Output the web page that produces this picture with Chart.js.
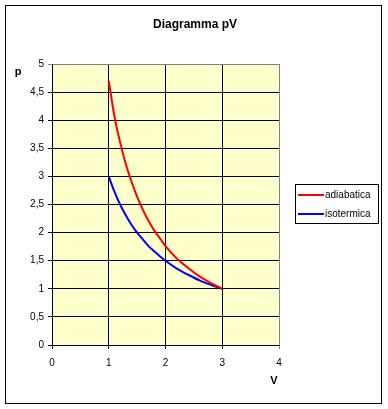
<!DOCTYPE html>
<html>
<head>
<meta charset="utf-8">
<script src="https://cdn.jsdelivr.net/npm/chart.js@4.4.0/dist/chart.umd.min.js"></script>
<style>
  body { margin: 0; background: #fff; }
  #wrap { position: relative; width: 388px; height: 409px; }
  #frame { position: absolute; left: 5px; top: 5px; width: 375px; height: 397px; border: 1px solid #000; pointer-events: none; }
</style>
</head>
<body>
<div id="wrap">
  <canvas id="pvchart" width="388" height="409"></canvas>
  <div id="frame"></div>
</div>
<script>
// volume V (asse x)
var volumi = [1, 1.1, 1.2, 1.3, 1.4, 1.5, 1.6, 1.7, 1.8, 1.9, 2, 2.2, 2.4, 2.6, 2.8, 3];
// pressione lungo l'adiabatica
var pAdiabatica = [4.7, 4.07, 3.61, 3.22, 2.91, 2.64, 2.41, 2.21, 2.04, 1.9, 1.76, 1.54, 1.37, 1.22, 1.1, 1];
// pressione lungo l'isoterma
var pIsotermica = [3, 2.73, 2.5, 2.31, 2.14, 2, 1.88, 1.76, 1.67, 1.58, 1.5, 1.36, 1.25, 1.15, 1.07, 1];

var nomiSerie = ['adiabatica', 'isotermica'];
var coloriSerie = ['#FF0000', '#0000FF'];

var titolo = 'Diagramma pV';
var etichettaY = 'p';
var etichettaX = 'V';

function punti(xs, ys) {
    return xs.map(function(x, i) { return { x: x, y: ys[i] }; });
}

// sfondo giallo dell'area del grafico
var sfondo = {
    id: 'sfondo',
    beforeDraw: function(chart) {
        var a = chart.chartArea, ctx = chart.ctx;
        ctx.save();
        ctx.fillStyle = '#FFFFCC';
        ctx.fillRect(a.left, a.top, a.right - a.left, a.bottom - a.top);
        ctx.restore();
    }
};

// titolo, nomi degli assi e legenda
var testi = {
    id: 'testi',
    afterDraw: function(chart) {
        var ctx = chart.ctx;
        ctx.save();
        ctx.fillStyle = '#000';
        ctx.textBaseline = 'alphabetic';
        ctx.textAlign = 'center';
        ctx.font = 'bold 12px "Liberation Sans", Arial, sans-serif';
        ctx.fillText(titolo, 195, 28);
        ctx.font = 'bold 11px "Liberation Sans", Arial, sans-serif';
        ctx.fillText(etichettaY, 18, 75);
        ctx.fillText(etichettaX, 274, 384);

        // legenda
        ctx.strokeStyle = '#000';
        ctx.lineWidth = 1;
        ctx.strokeRect(295.5, 184.5, 83, 39);
        ctx.font = '10px "Liberation Sans", Arial, sans-serif';
        ctx.textAlign = 'left';
        ctx.textBaseline = 'middle';
        var righe = [195, 214];
        for (var i = 0; i < nomiSerie.length; i++) {
            ctx.strokeStyle = coloriSerie[i];
            ctx.lineWidth = 2;
            ctx.beginPath();
            ctx.moveTo(298, righe[i]);
            ctx.lineTo(324, righe[i]);
            ctx.stroke();
            ctx.fillText(nomiSerie[i], 325, righe[i]);
        }
        ctx.restore();
    }
};

var config = {
    type: 'scatter',
    data: {
        datasets: [{
            label: nomiSerie[0],
            data: punti(volumi, pAdiabatica),
            borderColor: coloriSerie[0],
            showLine: true,
            borderWidth: 2,
            pointRadius: 0,
            cubicInterpolationMode: 'monotone'
        }, {
            label: nomiSerie[1],
            data: punti(volumi, pIsotermica),
            borderColor: coloriSerie[1],
            showLine: true,
            borderWidth: 2,
            pointRadius: 0,
            cubicInterpolationMode: 'monotone'
        }]
    },
    options: {
        responsive: false,
        animation: false,
        layout: { padding: { left: 0, top: 64, right: 109, bottom: 0 } },
        plugins: {
            legend: { display: false },
            title: { display: false },
            tooltip: { enabled: false }
        },
        scales: {
            x: {
                type: 'linear',
                min: 0,
                max: 4,
                ticks: {
                    stepSize: 1,
                    color: '#000',
                    padding: 8,
                    font: { family: '"Liberation Sans", Arial, sans-serif', size: 10 }
                },
                grid: {
                    color: function(c) { return c.tick && c.tick.value === 4 ? '#808080' : '#000'; },
                    tickLength: 4
                },
                border: { color: '#000', width: 1 },
                afterFit: function(s) { s.height = 64; }
            },
            y: {
                min: 0,
                max: 5,
                ticks: {
                    stepSize: 0.5,
                    color: '#000',
                    padding: 4,
                    font: { family: '"Liberation Sans", Arial, sans-serif', size: 10 },
                    callback: function(v) { return String(v).replace('.', ','); }
                },
                grid: {
                    color: function(c) { return c.tick && c.tick.value === 5 ? '#808080' : '#000'; },
                    tickLength: 4
                },
                border: { color: '#000', width: 1 },
                afterFit: function(s) { s.width = 52; }
            }
        }
    },
    plugins: [sfondo, testi]
};

var grafico = new Chart(document.getElementById('pvchart'), config);
</script>
</body>
</html>
